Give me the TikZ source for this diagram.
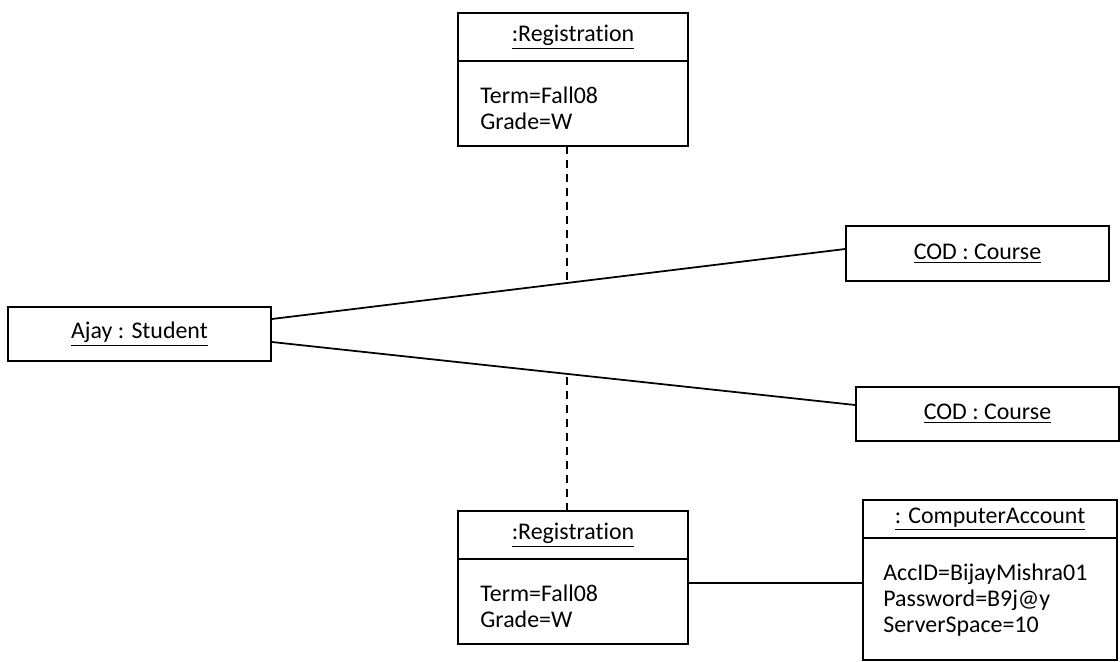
\documentclass[tikz,border=0pt]{standalone}
\usepackage{fontspec}
\setmainfont{Carlito}[Ligatures=NoCommon]
\usetikzlibrary{positioning,calc}

\begin{document}
\begin{tikzpicture}[
  objbox/.style={rectangle, draw, line width=1pt, minimum width=5.26cm, minimum height=1.08cm,
                 text centered, font=\fontsize{13.6}{14.8}\selectfont},
  headbox/.style={rectangle, draw, line width=1pt, outer sep=0pt, minimum width=4.6cm, minimum height=0.96cm,
                  text centered, font=\fontsize{13.6}{14.8}\selectfont},
  bodybox/.style={rectangle, draw, line width=1pt, outer sep=0pt, minimum width=4.6cm, minimum height=1.7cm},
  attrs/.style={anchor=north west, align=left, inner sep=0pt, font=\fontsize{13.6}{14.8}\selectfont},
  link/.style={line width=1pt},
  dlink/.style={line width=1pt, dash pattern=on 0.16cm off 0.12cm},
]
\useasboundingbox (0,0) rectangle (22.4,-13.22);

% Student and courses
\node[objbox] (stud) at (2.79,-6.68) {\underline{Ajay : Student}};
\node[objbox, minimum height=1.1cm] (cod1) at (19.55,-5.07) {\underline{COD : Course}};
\node[objbox] (cod2) at (19.75,-8.28) {\underline{COD : Course}};

% Upper registration
\node[headbox] (reg1) at (11.46,-0.74) {\underline{:Registration}};
\node[bodybox, below=0pt of reg1] (reg1body) {};
\node[attrs] (reg1attr) at ([xshift=0.44cm,yshift=-0.52cm]reg1body.north west) {Term=Fall08\\Grade=W};

% Lower registration
\node[headbox] (reg2) at (11.46,-10.7) {\underline{:Registration}};
\node[bodybox, below=0pt of reg2] (reg2body) {};
\node[attrs] (reg2attr) at ([xshift=0.44cm,yshift=-0.52cm]reg2body.north west) {Term=Fall08\\Grade=W};

% Computer account
\node[headbox, minimum width=5.08cm, minimum height=0.76cm] (acct) at (19.8,-10.38) {\underline{: ComputerAccount}};
\node[bodybox, minimum width=5.08cm, minimum height=2.44cm, below=0pt of acct] (acctbody) {};
\node[attrs] (acctattr) at ([xshift=0.4cm,yshift=-0.52cm]acctbody.north west) {AccID=BijayMishra01\\Password=B9j@y\\ServerSpace=10};

% Links
\draw[link] ([yshift=0.3cm]stud.east) -- coordinate[pos=0.515] (mid1) ([yshift=0.09cm]cod1.west);
\draw[link] ([yshift=-0.16cm]stud.east) -- coordinate[pos=0.506] (mid2) ([yshift=0.18cm]cod2.west);
\draw[dlink] (mid1 |- reg1body.south) -- (mid1);
\draw[dlink] (mid2 |- reg2.north) -- (mid2);
\path ([yshift=0.37cm]reg2body.east) coordinate (r2out);
\draw[link] (r2out) -- (r2out -| acctbody.west);

\end{tikzpicture}
\end{document}
